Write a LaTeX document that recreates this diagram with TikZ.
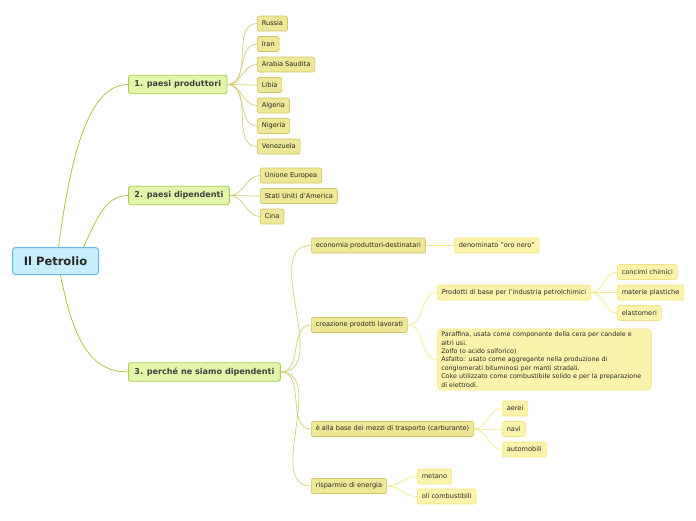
\documentclass[tikz,border=0pt]{standalone}
\usepackage{fontspec}
\setmainfont{DejaVu Sans}
\definecolor{rootfill}{HTML}{C9EEFB}
\definecolor{rootdraw}{HTML}{5CBDE8}
\definecolor{lonefill}{HTML}{E2F6A9}
\definecolor{lonedraw}{HTML}{A6CB52}
\definecolor{ltwofill}{HTML}{EDE796}
\definecolor{ltwodraw}{HTML}{CFC66A}
\definecolor{lthreefill}{HTML}{FCF3AA}
\definecolor{lthreedraw}{HTML}{F4E384}
\definecolor{conone}{HTML}{A9C94A}
\definecolor{contwo}{HTML}{D3CC7A}
\definecolor{conthree}{HTML}{F7E887}
\begin{document}
\begin{tikzpicture}[x=1pt,y=-1pt,
  rootbox/.style={draw=rootdraw,fill=rootfill,line width=1pt,rounded corners=3pt,font=\fontsize{11.5}{13}\selectfont\bfseries,text=black!85,minimum height=27pt,minimum width=86pt,inner xsep=8pt,anchor=west},
  onebox/.style={draw=lonedraw,fill=lonefill,line width=0.8pt,rounded corners=2.5pt,font=\fontsize{8.1}{9}\selectfont\bfseries,text=black!75,minimum height=18.5pt,inner xsep=6pt,anchor=west},
  twobox/.style={draw=ltwodraw,fill=ltwofill,line width=0.6pt,rounded corners=2pt,font=\fontsize{6.6}{7.5}\selectfont,text=black!85,minimum height=15pt,inner xsep=4.5pt,inner ysep=1pt,anchor=west},
  threebox/.style={draw=lthreedraw,fill=lthreefill,line width=0.6pt,rounded corners=2pt,font=\fontsize{6.6}{7.5}\selectfont,text=black!85,minimum height=15pt,inner xsep=4.5pt,inner ysep=1pt,anchor=west},
  conA/.style={draw=conone,line width=0.8pt},
  conB/.style={draw=contwo,line width=0.7pt},
  conC/.style={draw=conthree,line width=0.7pt},
  cv/.style={out=0,in=180}
]
\useasboundingbox (0,0) rectangle (696,520);
% root
\node[rootbox] (root) at (12,261) {Il Petrolio};
% level 1
\node[onebox] (p1) at (128,84.5) {1. paesi produttori};
\node[onebox] (p2) at (128,195.5) {2. paesi dipendenti};
\node[onebox] (p3) at (128,372) {3. perché ne siamo dipendenti};
% children of 1
\node[twobox] (russia) at (257,23.5) {Russia};
\node[twobox] (iran) at (257,44) {Iran};
\node[twobox] (arabia) at (257,64.5) {Arabia Saudita};
\node[twobox] (libia) at (257,85) {Libia};
\node[twobox] (algeria) at (257,105.5) {Algeria};
\node[twobox] (nigeria) at (257,126) {Nigeria};
\node[twobox] (venez) at (257,146.5) {Venezuela};
% children of 2
\node[twobox] (ue) at (260,175.5) {Unione Europea};
\node[twobox] (usa) at (260,196) {Stati Uniti d'America};
\node[twobox] (cina) at (260,216.5) {Cina};
% children of 3
\node[twobox] (eco) at (311,245.5) {economia produttori-destinatari};
\node[twobox] (crea) at (311,325) {creazione prodotti lavorati};
\node[twobox] (base) at (311,429) {è alla base dei mezzi di trasporto (carburante)};
\node[twobox] (risp) at (311,486) {risparmio di energia};
% level 3
\node[threebox] (oro) at (454,245.5) {denominato "oro nero"};
\node[threebox] (prod) at (437,292.5) {Prodotti di base per l'industria petrolchimici};
\node[threebox] (concimi) at (617,272) {concimi chimici};
\node[threebox] (materie) at (617,292.5) {materie plastiche};
\node[threebox] (elast) at (617,313) {elastomeri};
\node[threebox,align=left,text width=206pt,inner ysep=3pt,inner xsep=4pt,rounded corners=4pt,font=\fontsize{6.35}{8.4}\selectfont] (paraf) at (437,359.5) {\hyphenpenalty=10000 Paraffina, usata come componente della cera per candele e\\altri usi.\\Zolfo (o acido solforico)\\Asfalto: usato come aggregante nella produzione di\\conglomerati bituminosi per manti stradali.\\Coke utilizzato come combustibile solido e per la preparazione\\di elettrodi.};
\node[threebox] (aerei) at (502,408.5) {aerei};
\node[threebox] (navi) at (502,429) {navi};
\node[threebox] (auto) at (502,449.5) {automobili};
\node[threebox] (metano) at (417,476.5) {metano};
\node[threebox] (oli) at (417,496.5) {oli combustibili};
% connectors root -> level 1
\draw[conA] ([xshift=3pt]root.north) .. controls ++(12,-90) and ++(-40,0) .. (p1.west);
\draw[conA] ([xshift=28pt]root.north) .. controls ++(14,-30) and ++(-22,0) .. (p2.west);
\draw[conA] ([xshift=5pt]root.south) .. controls ++(12,60) and ++(-40,0) .. (p3.west);
% level 1 -> 2
\foreach \c in {russia,iran,arabia,libia,algeria,nigeria,venez}
  \draw[conB] (p1.east) to[cv] (\c.west);
\foreach \c in {ue,usa,cina}
  \draw[conB] (p2.east) to[cv] (\c.west);
\foreach \c in {eco,crea,base,risp}
  \draw[conB] (p3.east) to[cv] (\c.west);
% level 2 -> 3
\draw[conC] (eco.east) to[cv] (oro.west);
\draw[conC] (crea.east) to[cv] (prod.west);
\draw[conC] (crea.east) to[cv] (paraf.west);
\foreach \c in {concimi,materie,elast}
  \draw[conC] (prod.east) to[cv] (\c.west);
\foreach \c in {aerei,navi,auto}
  \draw[conC] (base.east) to[cv] (\c.west);
\foreach \c in {metano,oli}
  \draw[conC] (risp.east) to[cv] (\c.west);
\end{tikzpicture}
\end{document}
